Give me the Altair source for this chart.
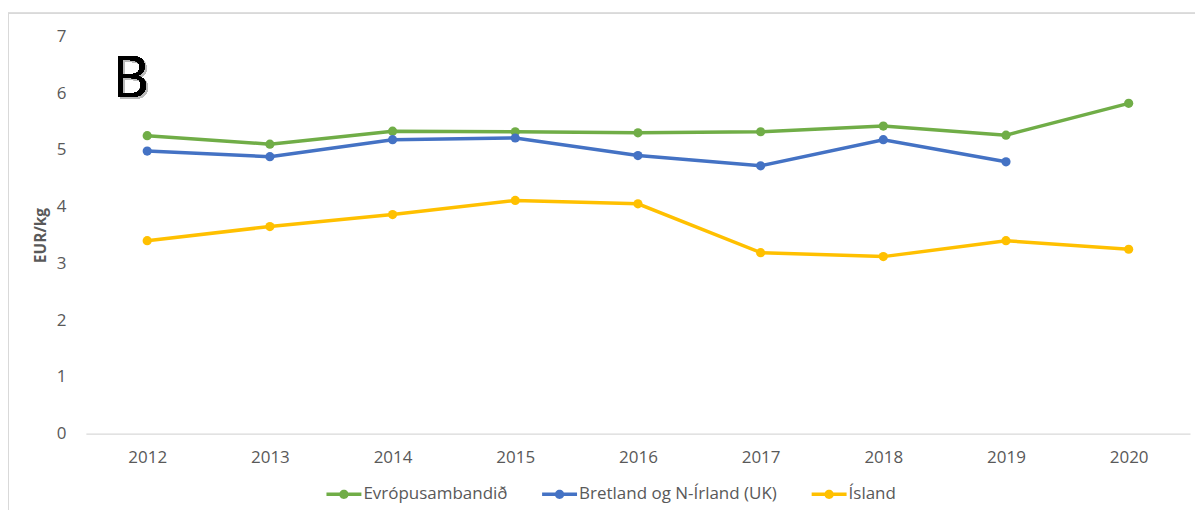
import altair as alt
import pandas as pd

years = ["2012", "2013", "2014", "2015", "2016", "2017", "2018", "2019", "2020"]
series = ["Evrópusambandið", "Bretland og N-Írland (UK)", "Ísland"]
colors = ["#70AD47", "#4472C4", "#FFC000"]

eu = [5.25, 5.10, 5.33, 5.32, 5.30, 5.32, 5.42, 5.26, 5.82]
uk = [4.98, 4.88, 5.18, 5.21, 4.90, 4.72, 5.18, 4.79]
isl = [3.40, 3.65, 3.86, 4.11, 4.05, 3.19, 3.12, 3.40, 3.25]

rows = []
for name, vals in zip(series, [eu, uk, isl]):
    for yr, v in zip(years, vals):
        rows.append({"year": yr, "series": name, "value": v})
df = pd.DataFrame(rows)

FONT = "Open Sans"
GRAY = "#595959"

x_enc = alt.X("year:O", sort=years, title=None,
              axis=alt.Axis(labelAngle=0, labelFont=FONT, labelFontSize=17,
                            labelColor=GRAY, labelPadding=16, ticks=False,
                            domainColor="#d9d9d9", domainWidth=1.3, grid=False))
y_enc = alt.Y("value:Q", scale=alt.Scale(domain=[0, 7], nice=False),
              title="EUR/kg",
              axis=alt.Axis(values=[0, 1, 2, 3, 4, 5, 6, 7], labelFont=FONT,
                            labelFontSize=17, labelColor=GRAY, labelPadding=20,
                            ticks=False, domain=False, grid=False,
                            titleFont=FONT, titleFontSize=15.5,
                            titleFontWeight="bold", titleColor=GRAY,
                            titlePadding=8))
color_scale = alt.Scale(domain=series, range=colors)

sym = ("M-1,-0.1 L1,-0.1 L1,0.1 L-1,0.1 Z "
       "M0.27,0 A0.27,0.27 0 1,1 -0.27,0 A0.27,0.27 0 1,1 0.27,0 Z")

label_expr = ("datum.label == '" + series[1] + "' ? datum.label + "
              "'\u00a0\u00a0\u00a0\u00a0\u00a0\u00a0\u00a0' : datum.label")

legend = alt.Legend(title=None, orient="none", legendX=241, legendY=441,
                    direction="horizontal", padding=0,
                    symbolType=sym, symbolSize=1225, symbolStrokeWidth=0,
                    labelFont=FONT, labelFontSize=17, labelColor=GRAY,
                    labelLimit=400, labelOffset=2, columnPadding=34,
                    labelExpr=label_expr)

base = alt.Chart(df).encode(x=x_enc, y=y_enc)

lines = base.mark_line(strokeWidth=3.5).encode(
    color=alt.Color("series:N", scale=color_scale, sort=series, legend=legend)
)
points = base.mark_point(filled=True, size=85, opacity=1).encode(
    color=alt.Color("series:N", scale=color_scale, sort=series, legend=legend)
)

border = alt.Chart(df).mark_rect(filled=False, stroke="#d9d9d9", strokeWidth=1).encode(
    x=alt.value(-78), y=alt.value(-23), x2=alt.value(1300), y2=alt.value(700)
)

label_shadow = alt.Chart(df).mark_text(
    text="B", font=FONT, fontSize=56, color="#bbbbbb", align="left",
    baseline="alphabetic", opacity=0.6
).encode(x=alt.value(29), y=alt.value(63))
label = alt.Chart(df).mark_text(
    text="B", font=FONT, fontSize=56, color="#000000", align="left",
    baseline="alphabetic"
).encode(x=alt.value(27), y=alt.value(61))

chart = alt.layer(border, lines, points, label_shadow, label).properties(
    width=1106, height=398,
    autosize=alt.AutoSizeParams(type="none"),
    padding={"left": 78, "top": 28, "right": 5, "bottom": 76},
).configure_view(stroke=None)

chart.save("out.html", embed_options={"renderer": "svg", "actions": False})
